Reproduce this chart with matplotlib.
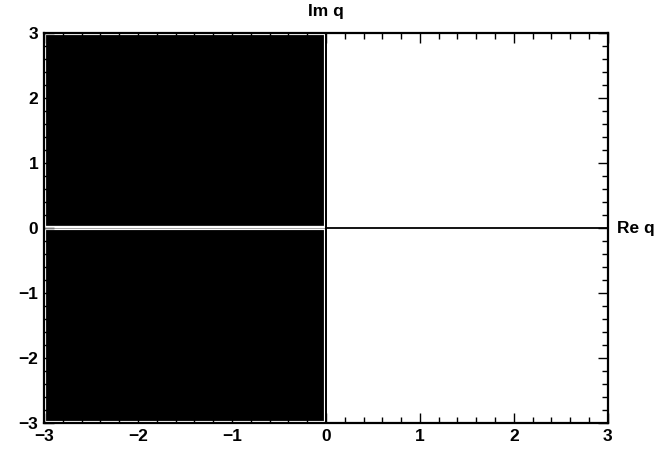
import numpy as np
import matplotlib
matplotlib.use("Agg")
import matplotlib.pyplot as plt
from matplotlib.patches import Rectangle

plt.rcParams['font.family'] = ['Liberation Sans', 'DejaVu Sans']
plt.rcParams['font.weight'] = 'bold'

# region Re q < 0 (shaded), split at Im q = 0
re_min, re_max = -3, 3
im_min, im_max = -3, 3
shade_re = [-3, 0]
shade_im_upper = [0, 3]
shade_im_lower = [-3, 0]
major_ticks = [-3, -2, -1, 0, 1, 2, 3]
minor_step = 0.2

fig = plt.figure(figsize=(6.72, 4.49), dpi=100)
ax = fig.add_axes([0.0655, 0.0568, 0.839, 0.8697])

for ims in (shade_im_upper, shade_im_lower):
    ax.add_patch(Rectangle((shade_re[0], ims[0]), shade_re[1] - shade_re[0], ims[1] - ims[0],
                           facecolor='black', edgecolor='white', lw=3.0, zorder=1))

ax.plot([re_min, 0], [0, 0], color='0.6', lw=0.6, zorder=2)
ax.axvline(0, color='black', lw=1.4, zorder=3)
ax.plot([0, re_max], [0, 0], color='black', lw=1.3, zorder=3)

ax.set_xlim(re_min, re_max)
ax.set_ylim(im_min, im_max)
ax.set_xticks(major_ticks)
ax.set_yticks(major_ticks)
ax.set_xticks(np.arange(re_min, re_max + 0.01, minor_step), minor=True)
ax.set_yticks(np.arange(im_min, im_max + 0.01, minor_step), minor=True)
ax.set_xticklabels([str(t).replace('-', '\u2212') for t in major_ticks], fontsize=12.5, fontweight='bold')
ax.set_yticklabels([str(t).replace('-', '\u2212') for t in major_ticks], fontsize=12.5, fontweight='bold')
ax.tick_params(which='both', direction='in', top=True, right=True, width=1.0)
ax.tick_params(which='major', length=7, pad=4)
ax.tick_params(which='minor', length=4)
for s in ax.spines.values():
    s.set_linewidth(1.6)

# ticks lying over the shaded area show up light
for tick in ax.xaxis.get_major_ticks() + ax.xaxis.get_minor_ticks():
    if tick.get_loc() < -0.01:
        tick.tick1line.set_color('white')
        tick.tick2line.set_color('white')
for tick in ax.yaxis.get_major_ticks() + ax.yaxis.get_minor_ticks():
    tick.tick1line.set_color('white')

ax.text(0, 1.036, 'Im q', transform=ax.get_xaxis_transform(), ha='center', va='bottom',
        fontsize=12.5, fontweight='bold')
ax.text(1.017, 0, 'Re q', transform=ax.get_yaxis_transform(), ha='left', va='center',
        fontsize=12.5, fontweight='bold')

fig.savefig('out.png', dpi=100)
